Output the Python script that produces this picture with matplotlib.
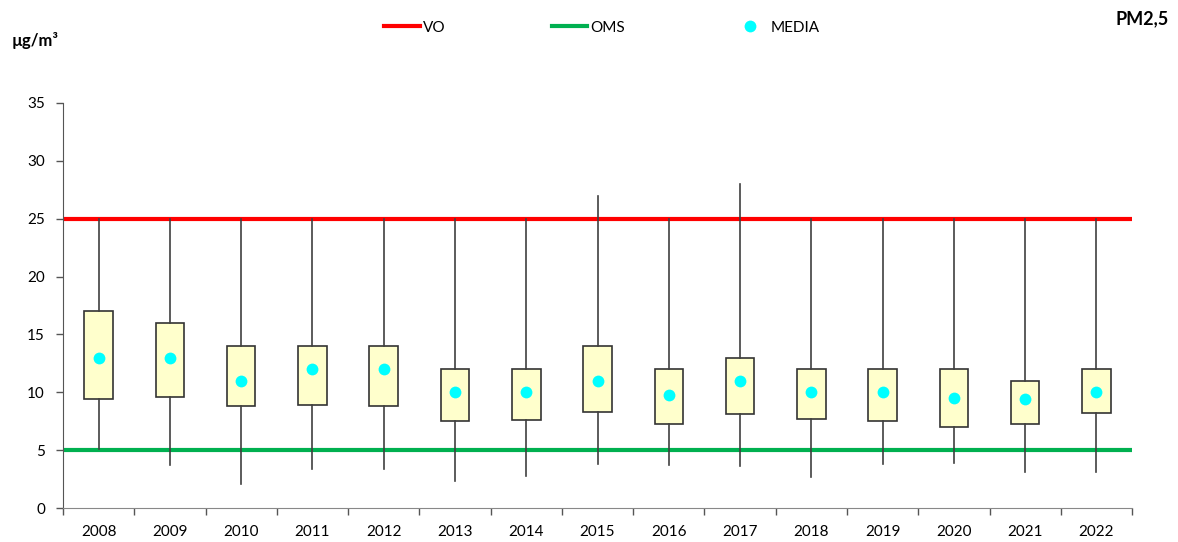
"""PM2,5 annual distribution boxes with VO / OMS reference lines"""

import numpy as np
import matplotlib
matplotlib.use("Agg")
import matplotlib.pyplot as plt
from matplotlib.lines import Line2D

years = ['2008', '2009', '2010', '2011', '2012', '2013', '2014', '2015',
         '2016', '2017', '2018', '2019', '2020', '2021', '2022']
q1 = [9.4, 9.6, 8.8, 8.9, 8.8, 7.5, 7.6, 8.3, 7.3, 8.1, 7.7, 7.5, 7.0, 7.3, 8.2]
q3 = [17, 16, 14, 14, 14, 12, 12, 14, 12, 13, 12, 12, 12, 11, 12]
mins = [5.1, 3.7, 2.1, 3.4, 3.4, 2.3, 2.8, 3.8, 3.7, 3.6, 2.7, 3.8, 3.9, 3.1, 3.1]
maxs = [25, 25, 25, 25, 25, 25, 25, 27, 25, 28, 25, 25, 25, 25, 25]
means = [13, 13, 11, 12, 12, 10, 10, 11, 9.8, 11, 10, 10, 9.5, 9.4, 10]
vo_limit = 25
oms_limit = 5

plt.rcParams['font.family'] = ['Lato', 'DejaVu Sans']

fig = plt.figure(figsize=(11.78, 5.42), dpi=100)
ax = fig.add_axes([0.0535, 0.0627, 0.9075, 0.7473])

pos = np.arange(len(years))
stats = [dict(med=m, q1=a, q3=b, whislo=lo, whishi=hi, mean=m)
         for m, a, b, lo, hi in zip(means, q1, q3, mins, maxs)]
ax.bxp(stats, positions=pos, widths=0.4, patch_artist=True, showcaps=False,
       showfliers=False,
       boxprops=dict(facecolor='#ffffcc', edgecolor='#333333', linewidth=1.2),
       whiskerprops=dict(color='#404040', linewidth=1.2),
       medianprops=dict(visible=False), zorder=2)

ax.axhline(vo_limit, color='#ff0000', lw=3, zorder=1)
ax.axhline(oms_limit, color='#00b050', lw=3, zorder=1)
ax.plot(pos, means, 'o', color='#00ffff', ms=8.5, mec='none', zorder=3)

ax.set_xlim(-0.5, len(years) - 0.5)
ax.set_ylim(0, 35)
ax.set_yticks(np.arange(0, 36, 5))
ax.set_xticks(pos)
ax.set_xticklabels(years)
ax.set_xticks(np.arange(-0.5, len(years)), minor=True)
ax.tick_params(axis='x', which='major', length=0, pad=12, labelsize=11)
ax.tick_params(axis='x', which='minor', length=5, width=1, color='#555555')
ax.tick_params(axis='y', length=5, width=1, color='#555555', pad=8, labelsize=11)
for side in ['top', 'right']:
    ax.spines[side].set_visible(False)
ax.spines['left'].set_color('#555555')
ax.spines['bottom'].set_color('#888888')

handles = [Line2D([], [], color='#ff0000', lw=3),
           Line2D([], [], color='#00b050', lw=3),
           Line2D([], [], ls='none', marker='o', color='#00ffff', ms=8.5, mec='none')]
fig.legend(handles, ['VO', 'OMS', 'MEDIA'], loc='center', ncol=3,
           bbox_to_anchor=(0.511, 0.949), frameon=False, fontsize=11,
           handlelength=2.3, handletextpad=0.2, columnspacing=7)

fig.text(0.01, 0.925, 'µg/m³', fontsize=12, fontweight='bold', va='center')
fig.text(0.992, 0.965, 'PM2,5', fontsize=13, fontweight='bold', ha='right', va='center')

fig.savefig('out.png', dpi=100)
